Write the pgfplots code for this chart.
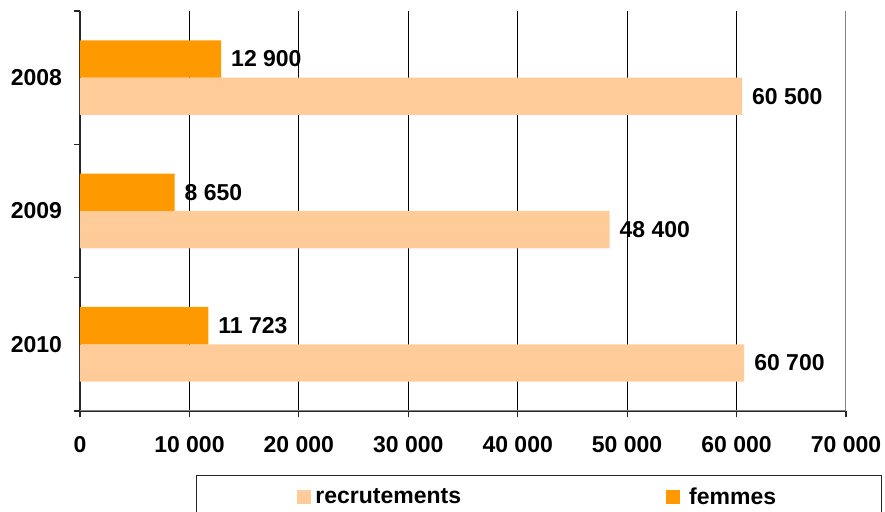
\documentclass[border=0pt]{standalone}
\usepackage{pgfplots}
\pgfplotsset{compat=1.18}
\usepackage{fontspec}
\setmainfont{Liberation Sans}
\definecolor{fem}{RGB}{255,153,0}
\definecolor{rec}{RGB}{255,204,153}
\newcommand\lab{\fontsize{11.5}{13}\selectfont\bfseries}
\begin{document}
\begin{tikzpicture}
\path[use as bounding box] (0,0) rectangle (442.5pt,256pt);
\begin{axis}[
  at={(40pt,50.5pt)}, anchor=south west,
  scale only axis, width=383pt, height=200pt,
  xbar, bar width=0.28,
  y dir=reverse,
  xmin=0, xmax=70000, ymin=-0.5, ymax=2.5,
  axis x line*=bottom, axis y line*=left,
  axis line style={black!85, line width=0.6pt},
  tick align=outside, major tick length=3.2pt,
  tick style={black!85, line width=0.6pt},
  xtick={0,10000,20000,30000,40000,50000,60000,70000},
  xticklabels={0,10 000,20 000,30 000,40 000,50 000,60 000,70 000},
  xticklabel style={font=\lab, yshift=-6pt},
  ytick={-0.5,0.5,1.5,2.5},
  yticklabels={,,,},
  extra y ticks={0,1,2},
  extra y tick labels={2008,2009,2010},
  extra y tick style={major tick length=0pt, yticklabel style={font=\lab, xshift=-5.5pt}},
  xmajorgrids, major grid style={black, line width=0.5pt},
  /pgf/number format/assume math mode=true,
  legend columns=2,
  legend style={at={(0.1514,-0.16)}, anchor=north west, draw=black!85, line width=0.5pt,
    font=\lab, inner xsep=50.5pt, inner ysep=4pt,
    /tikz/every even column/.append style={column sep=100.5pt}},
  legend image code/.code={\fill[#1] (0pt,-3.5pt) rectangle (7pt,3.5pt);},
  nodes near coords={\pgfmathprintnumber[assume math mode=true, 1000 sep={\ }]{\pgfplotspointmeta}},
  point meta=x,
  every node near coord/.append style={font=\lab, black, anchor=west, xshift=1.5pt},
]
\addplot[fill=rec, draw=none, bar shift=0.14] coordinates {(60500,0) (48400,1) (60700,2)};
\addlegendentry{recrutements}
\addplot[fill=fem, draw=none, bar shift=-0.14] coordinates {(12900,0) (8650,1) (11723,2)};
\addlegendentry{\hspace{2.5pt}femmes}
\draw[gray, line width=0.6pt] (rel axis cs:0,0) -- (rel axis cs:1,0) -- (rel axis cs:1,1);
\end{axis}
\end{tikzpicture}
\end{document}
